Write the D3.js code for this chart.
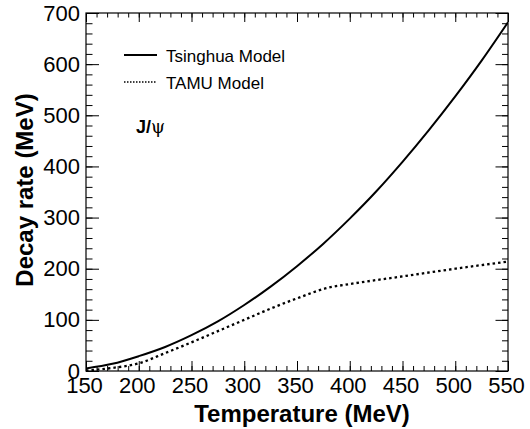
<!DOCTYPE html>
<html>
<head>
<meta charset="utf-8">
<script src="https://cdn.jsdelivr.net/npm/d3@7"></script>
<style>
  body { margin: 0; background: #fff; }
  svg { display: block; font-family: "Liberation Sans", Arial, sans-serif; }
</style>
</head>
<body>
<svg width="530" height="429"></svg>
<script>
var svg = d3.select('svg');

// temperature grid (MeV)
var temps = [150, 175, 200, 225, 250, 275, 300, 325, 350, 375, 400, 425, 450, 475, 500, 525, 550];
// Tsinghua model decay rate (MeV)
var tsinghua = [5, 14, 29, 47, 70, 97, 129, 165, 205, 249, 298, 351, 409, 471, 537, 607, 682];
// TAMU model (has a kink near 380 MeV)
var tamuT = [150, 175, 200, 225, 250, 275, 300, 325, 350, 380, 400, 450, 500, 550];
var tamu = [1, 6, 15, 35, 56, 78, 100, 122, 142, 163, 170, 185, 200, 214];

var xTicks = [150, 200, 250, 300, 350, 400, 450, 500, 550];
var yTicks = [0, 100, 200, 300, 400, 500, 600, 700];

var pL = 86, pR = 508, pT = 13, pB = 371;

var x = d3.scaleLinear().domain([150, 550]).range([pL, pR]);
var y = d3.scaleLinear().domain([0, 700]).range([pB, pT]);

// minor ticks
var xMinor = d3.range(150, 551, 10);
var yMinor = d3.range(0, 701, 20);

var g = svg.append('g');

// bottom axis
g.append('g')
    .attr('transform', 'translate(0,' + pB + ')')
    .call(d3.axisBottom(x).tickValues(xMinor).tickSize(-5).tickFormat(''))
    .call(function(s){ s.select('.domain').remove(); });
g.append('g')
    .attr('transform', 'translate(0,' + pB + ')')
    .call(d3.axisBottom(x).tickValues(xTicks).tickSize(-10).tickPadding(6).tickFormat(d3.format('d')))
    .call(function(s){
        s.select('.domain').remove();
        s.selectAll('text').attr('font-size', 22).attr('fill', '#000')
            .attr('font-family', '"Liberation Sans", Arial, sans-serif')
            .attr('dx', -2);
    });

// top axis (ticks only)
g.append('g')
    .attr('transform', 'translate(0,' + pT + ')')
    .call(d3.axisTop(x).tickValues(xMinor).tickSize(-4.5).tickFormat(''))
    .call(function(s){ s.select('.domain').remove(); });
g.append('g')
    .attr('transform', 'translate(0,' + pT + ')')
    .call(d3.axisTop(x).tickValues(xTicks).tickSize(-9).tickFormat(''))
    .call(function(s){ s.select('.domain').remove(); });

// left axis
g.append('g')
    .attr('transform', 'translate(' + pL + ',0)')
    .call(d3.axisLeft(y).tickValues(yMinor).tickSize(-6.5).tickFormat(''))
    .call(function(s){ s.select('.domain').remove(); });
g.append('g')
    .attr('transform', 'translate(' + pL + ',0)')
    .call(d3.axisLeft(y).tickValues(yTicks).tickSize(-13).tickPadding(6).tickFormat(d3.format('d')))
    .call(function(s){
        s.select('.domain').remove();
        s.selectAll('text').attr('font-size', 22).attr('fill', '#000')
            .attr('font-family', '"Liberation Sans", Arial, sans-serif');
    });

// right axis (ticks only)
g.append('g')
    .attr('transform', 'translate(' + pR + ',0)')
    .call(d3.axisRight(y).tickValues(yMinor).tickSize(-6).tickFormat(''))
    .call(function(s){ s.select('.domain').remove(); });
g.append('g')
    .attr('transform', 'translate(' + pR + ',0)')
    .call(d3.axisRight(y).tickValues(yTicks).tickSize(-12.5).tickFormat(''))
    .call(function(s){ s.select('.domain').remove(); });

g.selectAll('.tick line').attr('stroke', '#000').attr('stroke-width', 1);

// frame
svg.append('rect')
    .attr('x', pL).attr('y', pT)
    .attr('width', pR - pL).attr('height', pB - pT)
    .attr('fill', 'none').attr('stroke', '#000').attr('stroke-width', 1.2);

// curves
svg.append('clipPath').attr('id', 'clip')
    .append('rect').attr('x', pL).attr('y', pT)
    .attr('width', pR - pL).attr('height', pB - pT);

var line = d3.line().curve(d3.curveMonotoneX);

svg.append('path')
    .attr('clip-path', 'url(#clip)')
    .attr('d', line(temps.map(function(t, i){ return [x(t), y(tsinghua[i])]; })))
    .attr('fill', 'none').attr('stroke', '#000').attr('stroke-width', 2);

svg.append('path')
    .attr('clip-path', 'url(#clip)')
    .attr('d', line(tamuT.map(function(t, i){ return [x(t), y(tamu[i])]; })))
    .attr('fill', 'none').attr('stroke', '#000').attr('stroke-width', 2.3)
    .attr('stroke-dasharray', '2.5,3');

// legend
var legend = [
    {name: 'Tsinghua Model', dash: null, w: 2},
    {name: 'TAMU Model', dash: '1.5,1.5', w: 1.5}
];
legend.forEach(function(d, i){
    var ly = 55 + i * 27;
    svg.append('line')
        .attr('x1', 124).attr('x2', 157).attr('y1', ly).attr('y2', ly)
        .attr('stroke', '#000').attr('stroke-width', d.w)
        .attr('stroke-dasharray', d.dash);
    svg.append('text')
        .attr('x', 166).attr('y', ly + 6.5)
        .attr('font-size', 17)
        .text(d.name);
});

svg.append('text')
    .attr('x', 136).attr('y', 133)
    .attr('font-size', 18).attr('font-weight', 'bold')
    .text('J/')
    .append('tspan')
    .attr('font-weight', 'normal').attr('font-family', '"DejaVu Serif", serif')
    .text('ψ');

// axis titles
svg.append('text')
    .attr('x', 302).attr('y', 422)
    .attr('text-anchor', 'middle')
    .attr('font-size', 24).attr('font-weight', 'bold')
    .text('Temperature (MeV)');

svg.append('text')
    .attr('transform', 'translate(33,' + ((pT + pB) / 2 - 2) + ') rotate(-90)')
    .attr('text-anchor', 'middle')
    .attr('font-size', 24).attr('font-weight', 'bold')
    .text('Decay rate (MeV)');
</script>
</body>
</html>
